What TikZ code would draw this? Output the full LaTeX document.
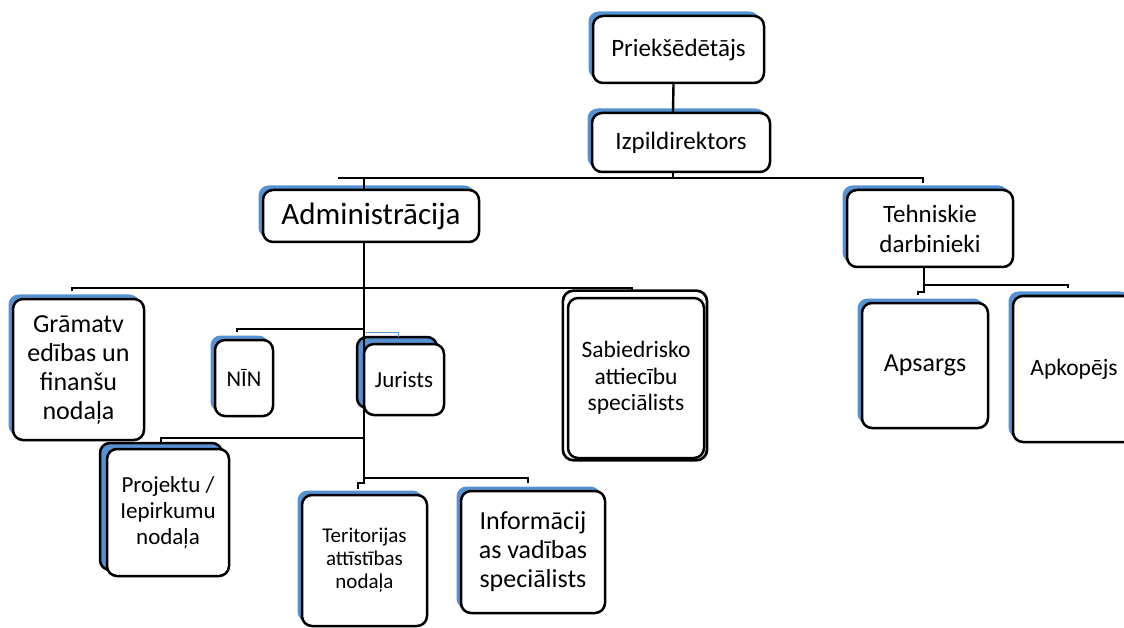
\documentclass[tikz,border=0pt]{standalone}
\usepackage{fontspec}
\setmainfont{Carlito}
\usetikzlibrary{calc,shadows}

\definecolor{sh}{RGB}{86,145,210}

\tikzset{
  box/.style={draw=black, line width=2.5pt, fill=white, rounded corners=10pt,
    inner sep=0pt, align=center},
  blueshadow/.style={copy shadow={shadow xshift=-4.5pt, shadow yshift=4.5pt,
    fill=sh, draw=none}},
  stackshadow/.style={copy shadow={shadow xshift=-7pt, shadow yshift=#1,
    fill=sh, draw=black}},
  conn/.style={draw=black, line width=2.4pt},
  fs/.style 2 args={font=\fontsize{#1}{#2}\selectfont}
}

\begin{document}
\begin{tikzpicture}[x=1pt, y=-1pt]
\useasboundingbox (0,0) rectangle (1124,628);

% top of the hierarchy
\node[box, blueshadow, fs={25}{28}, minimum width=171, minimum height=67]
  (pr) at (678.5,49.5) {Priekšēdētājs};
\node[box, blueshadow, fs={25}{28}, minimum width=178, minimum height=59]
  (izp) at (681,142.5) {Izpildirektors};

% second level
\node[box, blueshadow, fs={31}{35}, minimum width=216, minimum height=52]
  (adm) at (371,216) {Administrācija};
\node[box, blueshadow, fs={25}{30}, minimum width=166, minimum height=77]
  (teh) at (930,228.5) {Tehniskie\\darbinieki};

% administration units
\node[box, blueshadow, fs={26}{29}, minimum width=131, minimum height=141]
  (gra) at (78.5,369.5) {Grāmatv\\edības un\\finanšu\\nodaļa};
\node[box, blueshadow, fs={22.5}{25}, minimum width=58, minimum height=76]
  (nin) at (244,378) {NĪN};
\node[box, stackshadow=7pt, fs={23}{26}, minimum width=80, minimum height=71]
  (jur) at (404,379.5) {Jurists};
\node[box, copy shadow={shadow scale=1.06, shadow xshift=-1pt, fill=white, draw=black},
  fs={23.5}{26.5}, minimum width=136, minimum height=160]
  (sab) at (636,378) {Sabiedrisko\\attiecību\\speciālists};
\node[box, stackshadow=6pt, fs={23}{26}, minimum width=122, minimum height=127]
  (proj) at (168,512.5) {Projektu /\\Iepirkumu\\nodaļa};
\node[box, blueshadow, fs={21}{23}, minimum width=125, minimum height=131]
  (ter) at (364.5,560.5) {Teritorijas\\attīstības\\nodaļa};
\node[box, blueshadow, fs={26}{29}, minimum width=144, minimum height=122]
  (inf) at (533,552) {Informācij\\as vadības\\speciālists};

% technical staff
\node[box, blueshadow, fs={26}{29}, minimum width=126, minimum height=125]
  (aps) at (925,365.5) {\raisebox{-4pt}{Apsargs}};
\node[box, blueshadow, fs={23.5}{26}, minimum width=122, minimum height=146]
  (apk) at (1074,369) {Apkopējs};

% connector points
\coordinate (busL) at (338,178);
\coordinate (busR) at (923,178);
\coordinate (tehIn) at (923,183);
\coordinate (admX) at (364,178);
\coordinate (sp1) at (364,288);
\coordinate (sp2) at (364,329);
\coordinate (sp3) at (364,438);
\coordinate (sp4) at (364,478);
\coordinate (graIn) at (72,291);
\coordinate (sabIn) at (632,292);
\coordinate (ninIn) at (237,332);
\coordinate (projIn) at (161,443);
\coordinate (infIn) at (528,483);
\coordinate (terIn) at (358,489);
\coordinate (tehX) at (924,285);
\coordinate (apkIn) at (1068,288);
\coordinate (apsIn) at (918,295);
\coordinate (jurTab) at (398,337);

% connectors
\draw[conn] ($(pr.south)+(-5,0)$) -- ($(izp.north)+(-8,0)$);
\draw[conn] ($(izp.south)+(-8,0)$) -- ++(0,6);
\draw[conn] (busL) -- (busR) -- (tehIn);
\draw[conn] (admX) -- (admX |- adm.north);
\draw[conn] (admX |- adm.south) -- (sp4);
\draw[conn] (graIn) -- (graIn |- sp1) -- (sabIn |- sp1) -- (sabIn);
\draw[conn] (sp2) -- (ninIn |- sp2) -- (ninIn);
\draw[draw=sh, line width=1pt] (366,332) -| (jurTab);
\draw[conn] (sp3) -- (projIn |- sp3) -- (projIn);
\draw[conn] (sp4) -- (infIn |- sp4) -- (infIn);
\draw[conn] (sp4) -- ++(0,5) -| (terIn);
\draw[conn] (tehX |- teh.south) -- (tehX) -- (apkIn |- tehX) -- (apkIn);
\draw[conn] (tehX) -- ++(0,7) -| (apsIn);
\end{tikzpicture}
\end{document}
